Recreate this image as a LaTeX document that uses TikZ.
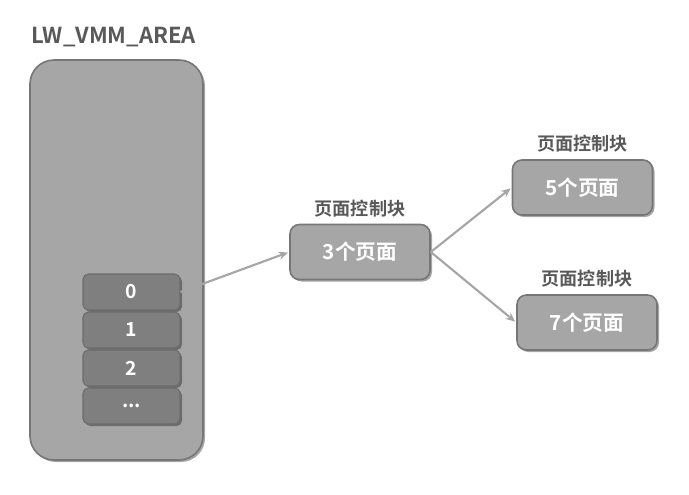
\documentclass[tikz,border=0pt]{standalone}
\usepackage{fontspec}
\setmainfont{Noto Sans CJK SC}[BoldFont={Noto Sans CJK SC Bold}]
\usetikzlibrary{positioning, arrows.meta, shadows}
\definecolor{areagray}{HTML}{A6A6A6}
\definecolor{slotgray}{HTML}{7F7F7F}
\definecolor{edgegray}{HTML}{767676}
\definecolor{textgray}{HTML}{595959}
\definecolor{linkgray}{HTML}{A6A6A6}

\begin{document}
\begin{tikzpicture}[x=0.75pt, y=-0.75pt, >={Stealth[length=7pt, width=6pt]},
    shade/.style={drop shadow={shadow xshift=1.5pt, shadow yshift=-1.5pt, opacity=0.35, fill=black}},
    area/.style={draw=edgegray, line width=1.2pt, fill=areagray, rounded corners=18pt,
        minimum width=129.75pt, minimum height=300pt, shade},
    slot/.style={draw=slotgray!85!black, line width=0.8pt, fill=slotgray, rounded corners=4pt,
        minimum width=72.75pt, minimum height=27pt, text=white, font=\bfseries\fontsize{14.5}{16}\selectfont, shade},
    pcb/.style={draw=edgegray, line width=1.2pt, fill=areagray, rounded corners=7pt,
        minimum width=105pt, minimum height=41.25pt, text=white, font=\bfseries\fontsize{15.5}{17}\selectfont, shade},
    lbl/.style={text=textgray, font=\bfseries\fontsize{13.6}{15}\selectfont, inner sep=1pt},
    link/.style={->, draw=linkgray, line width=1.6pt, shorten >=1pt}]
    \useasboundingbox (0,0) rectangle (689,494);

    % Nodes
    % LW_VMM_AREA and its slots
    \node[lbl, anchor=west, font=\bfseries\fontsize{16.5}{18}\selectfont] (title) at (30,37) {LW\_VMM\_AREA};
    \node[area] (area) at (116.5,260) {};
    \node[slot] (s0) at (131.5,292) {0};
    \node[slot] (s1) at (131.5,330) {1};
    \node[slot] (s2) at (131.5,368) {2};
    \node[slot] (s3) at (131.5,406) {...};

    % page control blocks
    \node[pcb] (pcb3) at (360,252) {3个页面};
    \node[lbl, above=4pt of pcb3] (lbl3) {页面控制块};
    \node[pcb] (pcb5) at (582.5,187.5) {5个页面};
    \node[lbl, above=4pt of pcb5] (lbl5) {页面控制块};
    \node[pcb] (pcb7) at (587,322.5) {7个页面};
    \node[lbl, above=4pt of pcb7] (lbl7) {页面控制块};

    % Links
    \draw[link] (s0.east) -- (pcb3.west);
    \draw[link] (pcb3.east) -- (pcb5.west);
    \draw[link] (pcb3.east) -- (pcb7.west);

\end{tikzpicture}
\end{document}
